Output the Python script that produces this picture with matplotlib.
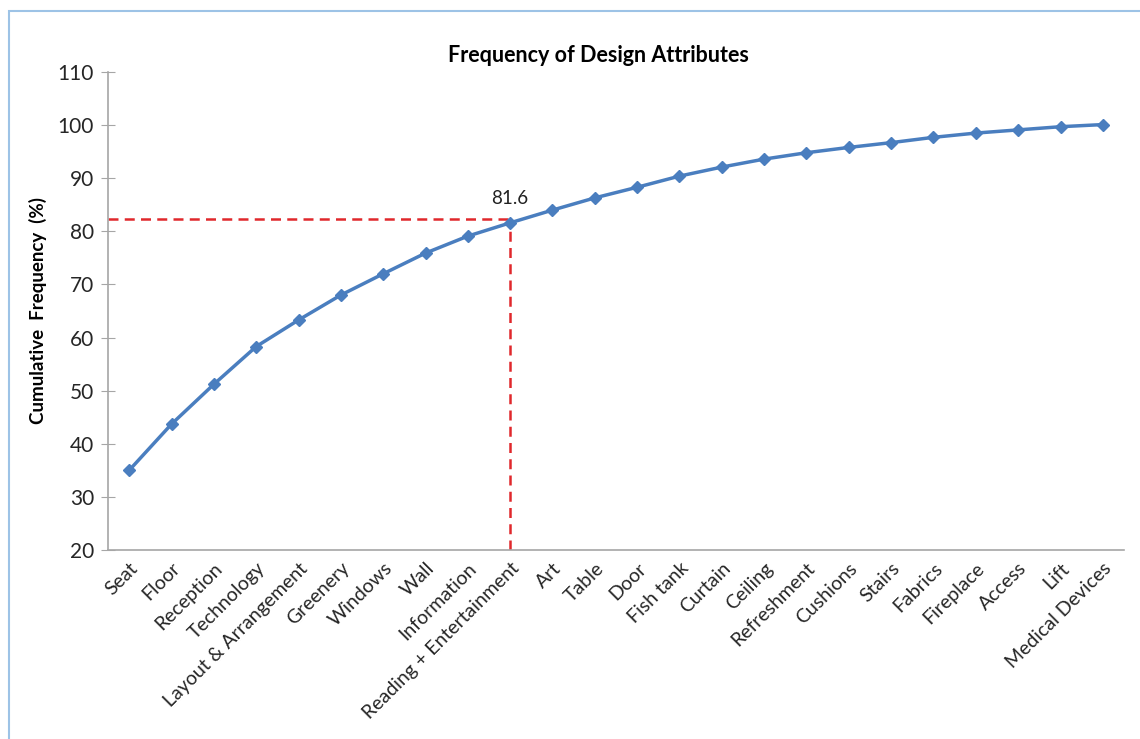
import matplotlib.pyplot as plt
from matplotlib.patches import Rectangle

attributes = ["Seat", "Floor", "Reception", "Technology", "Layout & Arrangement",
              "Greenery", "Windows", "Wall", "Information", "Reading + Entertainment",
              "Art", "Table", "Door", "Fish tank", "Curtain", "Ceiling", "Refreshment",
              "Cushions", "Stairs", "Fabrics", "Fireplace", "Access", "Lift",
              "Medical Devices"]
cumulative = [35.0, 43.7, 51.2, 58.3, 63.3, 68.0, 72.0, 75.9, 79.1, 81.6,
              84.0, 86.3, 88.3, 90.4, 92.1, 93.6, 94.8, 95.8, 96.7, 97.7,
              98.5, 99.1, 99.7, 100.1]
cutoff_idx = 9
cutoff_label = "81.6"
cutoff_level = 82.4
yticks = [20, 30, 40, 50, 60, 70, 80, 90, 100, 110]

plt.rcParams['font.family'] = ['Lato', 'DejaVu Sans']

fig = plt.figure(figsize=(11.4, 7.39), dpi=100)
ax = fig.add_axes([108 / 1140, 1 - 550 / 739, (1124 - 108) / 1140, (550 - 72) / 739])

x = list(range(len(attributes)))
ax.plot(x, cumulative, color="#4A7EBF", linewidth=2.5, marker="D",
        markersize=6.5, zorder=3)

# cut-off lines
red = "#E0282C"
ax.plot([-0.5, cutoff_idx], [cutoff_level, cutoff_level], color=red,
        linestyle=(0, (4, 2.5)), linewidth=1.8, zorder=2)
ax.plot([cutoff_idx, cutoff_idx], [20, cutoff_level], color=red,
        linestyle=(0, (4, 2.5)), linewidth=1.8, zorder=2)
ax.text(cutoff_idx, cutoff_level + 2.2, cutoff_label, ha="center", va="bottom",
        fontsize=13.5, color="#222222")

ax.set_xlim(-0.5, len(attributes) - 0.5)
ax.set_ylim(20, 110)
ax.set_yticks(yticks)
ax.set_xticks(x)
ax.set_xticklabels(attributes, rotation=45, ha="right", rotation_mode="anchor",
                   fontsize=14, color="#262626")
ax.tick_params(axis="x", length=0, pad=7)
ax.tick_params(axis="y", direction="inout", length=10, color="#A6A6A6",
               labelsize=15, labelcolor="#262626", pad=5)

for side in ["top", "right"]:
    ax.spines[side].set_visible(False)
for side in ["left", "bottom"]:
    ax.spines[side].set_color("#A6A6A6")
    ax.spines[side].set_linewidth(1.2)

ax.set_ylabel("Cumulative  Frequency  (%)", fontsize=13.5, fontweight="bold",
              labelpad=8)
fig.text(598 / 1140, 1 - 55 / 739, "Frequency of Design Attributes",
         ha="center", va="center", fontsize=15.5, fontweight="bold")

# outer chart frame
fig.patches.append(Rectangle((9 / 1140, -0.1), 1.2, 1 - 11 / 739 + 0.1,
                             transform=fig.transFigure, fill=False,
                             edgecolor="#9DC3E6", linewidth=1.5))

fig.savefig("out.png", dpi=100)
